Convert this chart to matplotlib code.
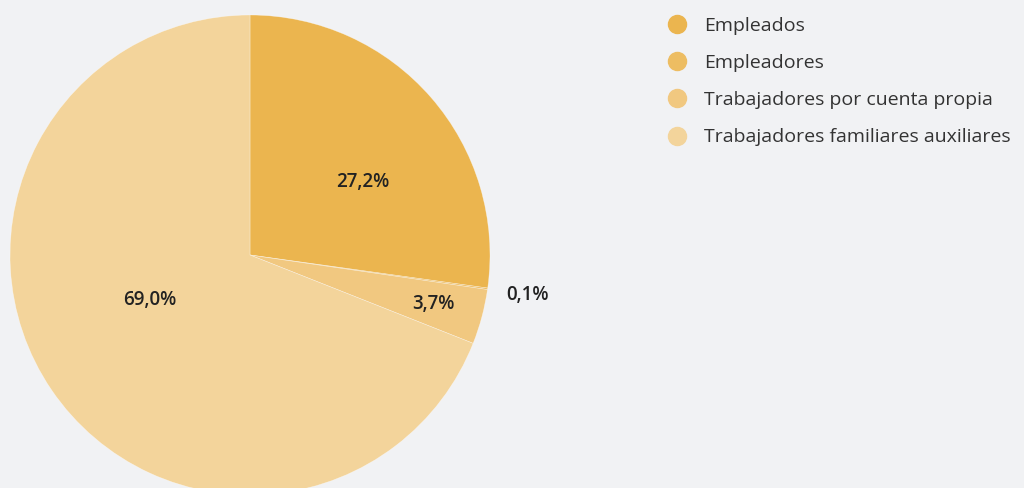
import numpy as np
import matplotlib
matplotlib.use("Agg")
import matplotlib.pyplot as plt
from matplotlib.lines import Line2D

categories = ["Empleados", "Empleadores", "Trabajadores por cuenta propia",
              "Trabajadores familiares auxiliares"]
values = [27.2, 0.1, 3.7, 69.0]
colors = ["#EBB54F", "#EDBD62", "#F1C880", "#F3D49B"]

bg = "#F1F2F4"
plt.rcParams['font.family'] = ['Open Sans', 'DejaVu Sans']

fig = plt.figure(figsize=(10.24, 4.88), dpi=100, facecolor=bg)
ax = fig.add_axes([0, 0, 1, 1])
ax.set_facecolor(bg)

cx, cy, R = 250, 488 - 255, 240
wedges, _ = ax.pie(values, colors=colors, startangle=90, counterclock=False,
                   center=(cx, cy), radius=R, frame=True,
                   wedgeprops=dict(edgecolor=(1, 1, 1, 0.5), linewidth=0.4))
ax.set_xlim(0, 1024)
ax.set_ylim(0, 488)
ax.set_aspect('equal')
ax.axis('off')

label_dist = [0.56, 1.17, 0.79, 0.46]
label_shift = [-8, 0, 0, -10]
for w, v, d, s in zip(wedges, values, label_dist, label_shift):
    th = np.deg2rad((w.theta1 + w.theta2) / 2 + s)
    x = cx + R * d * np.cos(th)
    y = cy + R * d * np.sin(th)
    ax.text(x, y, f"{v:.1f}%".replace(".", ","), ha="center", va="center",
            fontsize=13.5, fontweight="semibold", color="#222222")

handles = [Line2D([0], [0], marker='o', linestyle='', markersize=13,
                  markerfacecolor=c, markeredgecolor=c) for c in colors]
leg = fig.legend(handles, categories, loc='upper left',
                 bbox_to_anchor=(0.642, 0.982), frameon=False,
                 fontsize=14, labelcolor="#333333", labelspacing=0.99,
                 handletextpad=0.8, borderaxespad=0, handlelength=1.2)

fig.savefig("out.png", dpi=100, facecolor=bg)
